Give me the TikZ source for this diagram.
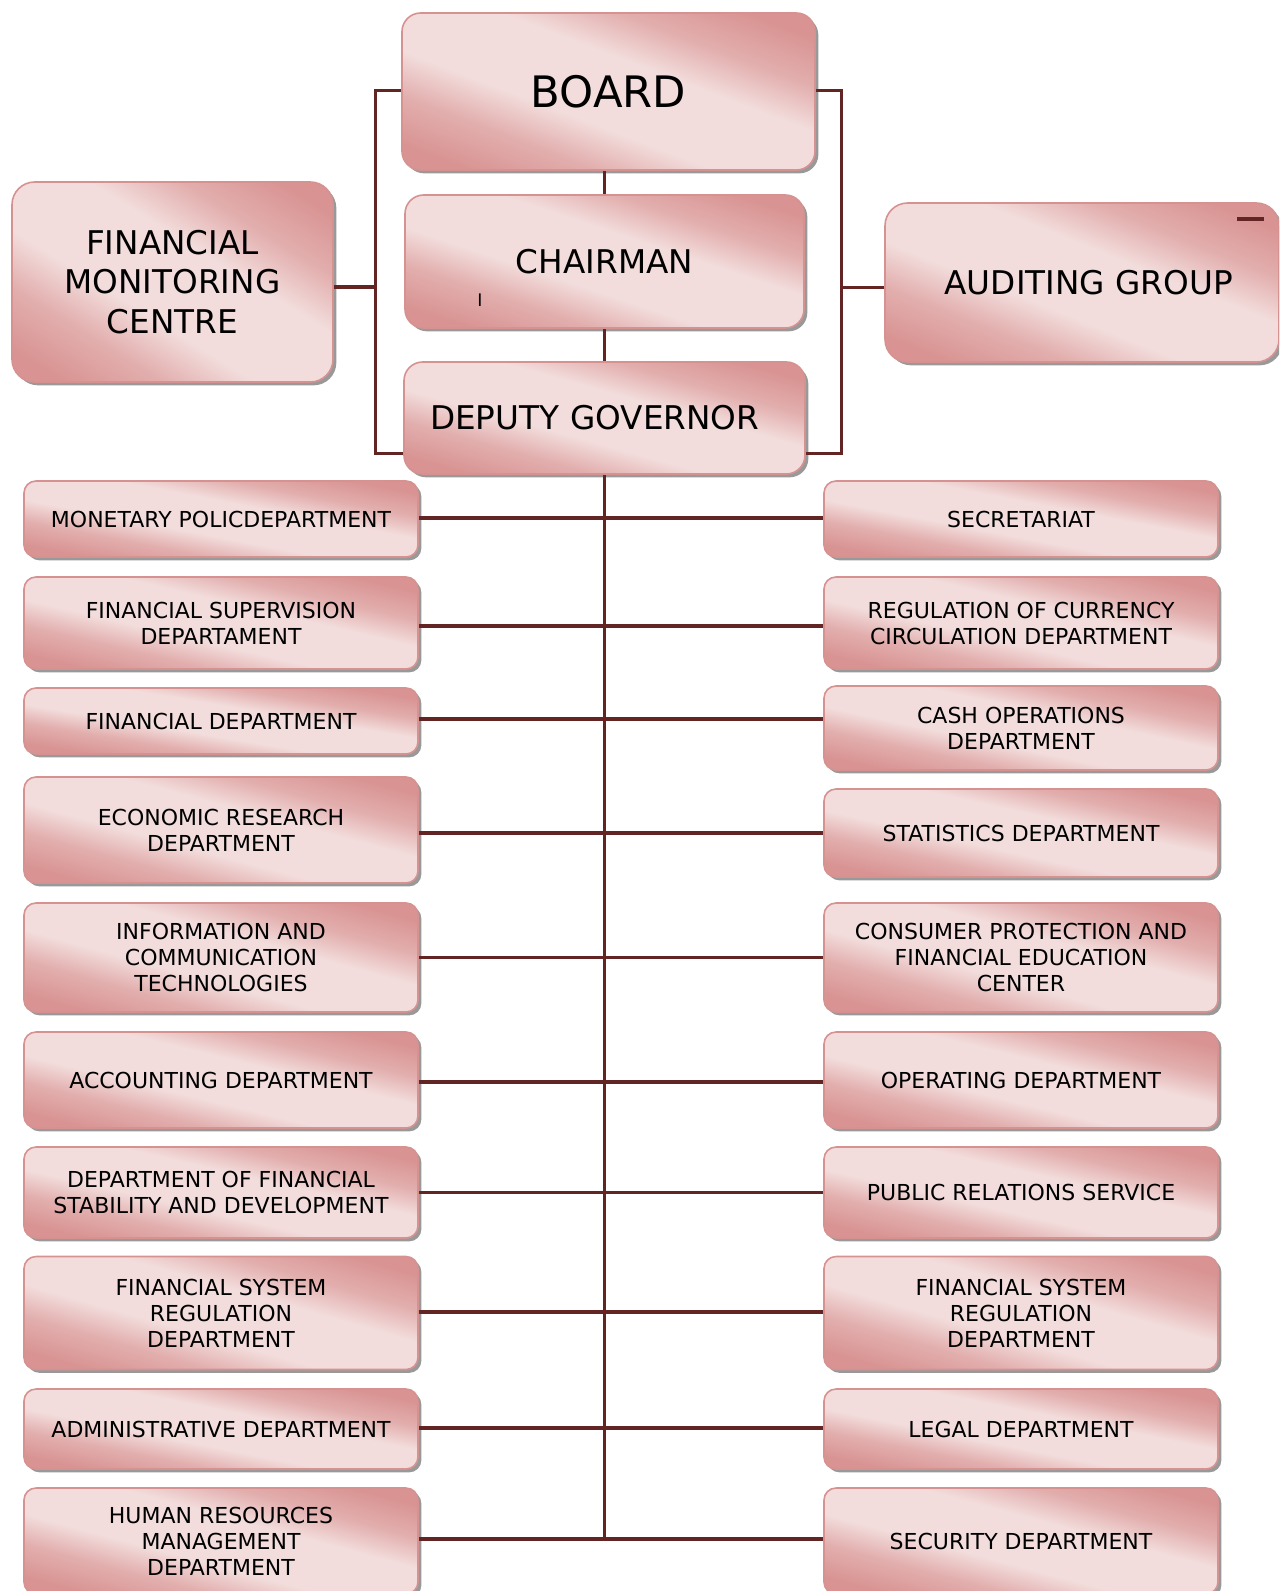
\documentclass[tikz,border=0pt]{standalone}
\usepackage{fontspec}
\setmainfont{DejaVu Sans}
\usetikzlibrary{shadows}
\definecolor{pkdark}{RGB}{216,147,146}
\definecolor{pkmid}{RGB}{226,175,174}
\definecolor{pklight}{RGB}{242,221,220}
\definecolor{pkborder}{RGB}{214,146,145}
\definecolor{conncol}{RGB}{99,37,35}
\pgfdeclarehorizontalshading{boxshade}{100bp}{color(0bp)=(pkdark); color(25bp)=(pkdark); color(29bp)=(pkdark); color(37bp)=(pkmid); color(44bp)=(pklight); color(56bp)=(pklight); color(63bp)=(pkmid); color(71bp)=(pkdark); color(75bp)=(pkdark); color(100bp)=(pkdark)}
\tikzset{
  pkshade/.style={path picture={%
    \pgfpointdiff{\pgfpointanchor{path picture bounding box}{south west}}{\pgfpointanchor{path picture bounding box}{north east}}%
    \pgfgetlastxy{\ww}{\hh}%
    \pgfmathsetmacro\sa{\ww/50}%
    \pgfmathsetmacro\sb{\hh/50}%
    \pgftransformshift{\pgfpointanchor{path picture bounding box}{center}}%
    \pgftransformcm{\sa}{\sb}{-\sa}{\sb}{\pgfpointorigin}%
    \pgflowlevelsynccm
    \pgfuseshading{boxshade}%
  }},
  box/.style={rounded corners=9pt, draw=pkborder, line width=1.2pt, fill=pklight, pkshade,
    drop shadow={shadow xshift=2.5pt, shadow yshift=-2.5pt, fill=black!50, opacity=0.8},
    align=center, inner sep=0pt, text=black},
  dept/.style={box, font=\fontsize{16.5}{19.5}\selectfont, minimum width=394*0.75pt},
  big/.style={box, rounded corners=14pt, font=\fontsize{24.5}{29.5}\selectfont},
  conn/.style={draw=conncol, line width=2.4pt},
}
\newcommand\mkdept[5]{\node[dept, minimum height=#4*0.75pt] (#1) at (#2,#3) {#5};}
\begin{document}
\begin{tikzpicture}[x=0.75pt,y=-0.75pt]
\useasboundingbox (0,0) rectangle (1279,1591);
\clip (0,0) rectangle (1279,1591);
% top boxes
\node[big, font=\fontsize{32.5}{38}\selectfont, minimum width=413*0.75pt, minimum height=157*0.75pt] (board) at (608.5,91.5) {\raisebox{-1.5pt}{BOARD}};
\node[big, minimum width=399*0.75pt, minimum height=133*0.75pt] (chair) at (604.5,261.5) {CHAIRMAN};
\node[big, minimum width=401*0.75pt, minimum height=112*0.75pt, text width=349*0.75pt, align=left] (deputy) at (604.5,418) {DEPUTY GOVERNOR};
\node[big, rounded corners=17pt, minimum width=321*0.75pt, minimum height=200*0.75pt] (fmc) at (172.5,282) {FINANCIAL\\MONITORING\\CENTRE};
\node[big, rounded corners=17pt, minimum width=394*0.75pt, minimum height=159*0.75pt] (aud) at (1082,282.5) {\hspace*{10pt}AUDITING GROUP};
\node[inner sep=0pt, font=\fontsize{13}{13}\selectfont] (cur) at (480,300) {I};
\coordinate (m1) at (1237,219);
\coordinate (m2) at (1264,219);
\draw[conn] (m1) -- (m2);
% left column
\mkdept{L1}{221}{519}{76}{MONETARY POLICDEPARTMENT}
\mkdept{L2}{221}{623}{92}{FINANCIAL SUPERVISION\\DEPARTAMENT}
\mkdept{L3}{221}{721}{66}{FINANCIAL DEPARTMENT}
\mkdept{L4}{221}{830}{106}{ECONOMIC RESEARCH\\DEPARTMENT}
\mkdept{L5}{221}{957.5}{109}{INFORMATION AND\\COMMUNICATION\\TECHNOLOGIES}
\mkdept{L6}{221}{1080}{96}{ACCOUNTING DEPARTMENT}
\mkdept{L7}{221}{1192.5}{91}{DEPARTMENT OF FINANCIAL\\STABILITY AND DEVELOPMENT}
\mkdept{L8}{221}{1313}{113}{FINANCIAL SYSTEM\\REGULATION\\DEPARTMENT}
\mkdept{L9}{221}{1429}{80}{ADMINISTRATIVE DEPARTMENT}
\mkdept{L10}{221}{1541}{106}{HUMAN RESOURCES\\MANAGEMENT\\DEPARTMENT}
% right column
\mkdept{R1}{1021}{519}{76}{SECRETARIAT}
\mkdept{R2}{1021}{623}{92}{REGULATION OF CURRENCY\\CIRCULATION DEPARTMENT}
\mkdept{R3}{1021}{728}{84}{CASH OPERATIONS\\DEPARTMENT}
\mkdept{R4}{1021}{833}{88}{STATISTICS DEPARTMENT}
\mkdept{R5}{1021}{957.5}{109}{CONSUMER PROTECTION AND\\FINANCIAL EDUCATION\\CENTER}
\mkdept{R6}{1021}{1080}{96}{OPERATING DEPARTMENT}
\mkdept{R7}{1021}{1192.5}{91}{PUBLIC RELATIONS SERVICE}
\mkdept{R8}{1021}{1313}{113}{FINANCIAL SYSTEM\\REGULATION\\DEPARTMENT}
\mkdept{R9}{1021}{1429}{80}{LEGAL DEPARTMENT}
\mkdept{R10}{1021}{1541}{106}{SECURITY DEPARTMENT}
% connectors
\coordinate (lbr) at ([xshift=-19.5pt]board.west);
\coordinate (rbr) at ([xshift=19.5pt]board.east);
\coordinate (dl) at ([yshift=15.75pt]deputy.south west);
\coordinate (dr) at ([yshift=15.75pt]deputy.south east);
\draw[conn] ([yshift=0.75pt]board.west) -- ([yshift=0.75pt]lbr) |- (dl);
\draw[conn] ([yshift=0.75pt]board.east) -- ([yshift=0.75pt]rbr) |- (dr);
\draw[conn] ([yshift=-3.75pt]fmc.east) -- ([yshift=-3.75pt]fmc.east -| lbr);
\draw[conn] ([yshift=-3.75pt]aud.west) -- ([yshift=-3.75pt]aud.west -| rbr);
\draw[conn] (chair.north) -- (chair.north |- board.south);
\draw[conn] (deputy.north) -- (deputy.north |- chair.south);
\coordinate (vend) at ([yshift=1.5pt]L10.east);
\draw[conn] (deputy.south) -- (deputy.south |- vend);
\foreach \i/\dy in {1/-1,2/3,3/-2,4/3,5/0,6/2,7/0,8/-1,9/-1,10/-2}
  \draw[conn] ([yshift=-\dy*0.75pt]L\i.east) -- ([yshift=-\dy*0.75pt]L\i.east -| R\i.west);
\end{tikzpicture}
\end{document}
